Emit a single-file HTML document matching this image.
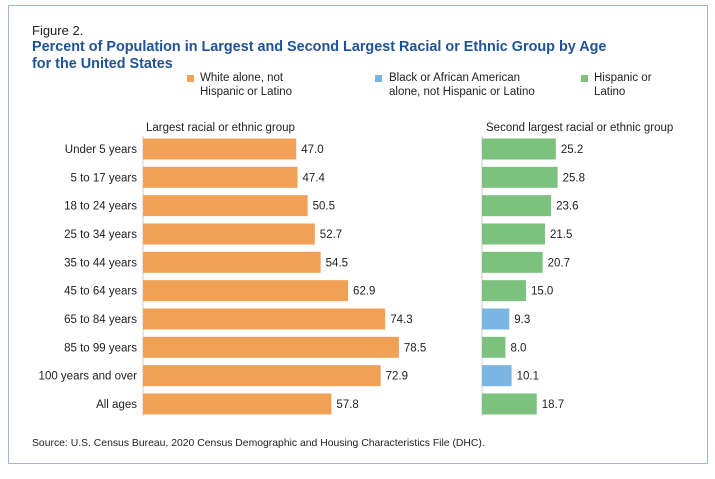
<!DOCTYPE html>
<html><head><meta charset="utf-8"><style>
body{margin:0;background:#fff;font-family:"Liberation Sans",sans-serif;}
#wrap{position:relative;width:715px;height:479px;overflow:hidden}
.frame{position:absolute;left:8px;top:5px;width:700px;height:459px;border:1px solid #9db8d6;box-sizing:border-box}
.t{position:absolute;white-space:nowrap;color:#222}
</style></head><body><div id="wrap">
<div class="frame"></div>
<div class="t" style="left:32px;top:23px;font-size:13px">Figure 2.</div>
<div class="t" style="left:32px;top:39px;font-size:14.4px;font-weight:bold;color:#1f5296;line-height:17px">Percent of Population in Largest and Second Largest Racial or Ethnic Group by Age<br>for the United States</div>
<div><div style="position:absolute;left:187px;top:75px;width:7px;height:7px;background:#f0a155"></div><div class="t" style="left:200px;top:71px;font-size:11.5px;line-height:14px">White alone, not<br>Hispanic or Latino</div></div>
<div><div style="position:absolute;left:375px;top:75px;width:7px;height:7px;background:#7ab6e3"></div><div class="t" style="left:389px;top:71px;font-size:11.5px;line-height:14px">Black or African American<br>alone, not Hispanic or Latino</div></div>
<div><div style="position:absolute;left:581px;top:75px;width:7px;height:7px;background:#7dc17e"></div><div class="t" style="left:594px;top:71px;font-size:11.5px;line-height:14px">Hispanic or<br>Latino</div></div>
<div class="t" style="left:146px;top:122px;font-size:11.5px">Largest racial or ethnic group</div>
<div class="t" style="left:486px;top:122px;font-size:11.5px">Second largest racial or ethnic group</div>
<div class="t" style="left:32px;top:438px;font-size:10.4px">Source: U.S. Census Bureau, 2020 Census Demographic and Housing Characteristics File (DHC).</div>
<svg id="chart" width="715" height="479" style="position:absolute;left:0;top:0"></svg>
</div>
<script>
const categories=["Under 5 years","5 to 17 years","18 to 24 years","25 to 34 years","35 to 44 years","45 to 64 years","65 to 84 years","85 to 99 years","100 years and over","All ages"];
const largestValues=[47.0,47.4,50.5,52.7,54.5,62.9,74.3,78.5,72.9,57.8];
const secondValues=[25.2,25.8,23.6,21.5,20.7,15.0,9.3,8.0,10.1,18.7];
const secondGroups=["H","H","H","H","H","H","B","H","B","H"];
const colors={W:"#f0a155",H:"#7dc17e",B:"#7ab6e3"};
const svg=document.getElementById('chart');
const NS="http://www.w3.org/2000/svg";
const xL=v=>143+v*3.26, xR=v=>482+v*2.93;
const yC=i=>149+i*28.33;
const bh=21;
function mk(t,a){const e=document.createElementNS(NS,t);for(const k in a)e.setAttribute(k,a[k]);svg.appendChild(e);return e;}
let ax=mk('line',{x1:143,x2:143,y1:136,y2:416,stroke:'#ccc'});


ax=mk('line',{x1:482,x2:482,y1:136,y2:416,stroke:'#ccc'});


categories.forEach((c,i)=>{
  const y=yC(i);
  let t=mk('text',{x:137,y:y+4,'text-anchor':'end','font-size':'11.5',fill:'#222','font-family':'Liberation Sans, sans-serif'});
  t.textContent=c;
  
  
  let r=mk('rect',{x:143,y:y-bh/2,width:xL(largestValues[i])-143,height:bh,fill:colors.W});
  
  
  t=mk('text',{x:xL(largestValues[i])+5,y:y+4,'font-size':'11.5',fill:'#222','font-family':'Liberation Sans, sans-serif'});
  t.textContent=largestValues[i].toFixed(1);
  
  
  r=mk('rect',{x:482,y:y-bh/2,width:xR(secondValues[i])-482,height:bh,fill:colors[secondGroups[i]]});
  
  
  t=mk('text',{x:xR(secondValues[i])+5,y:y+4,'font-size':'11.5',fill:'#222','font-family':'Liberation Sans, sans-serif'});
  t.textContent=secondValues[i].toFixed(1);
  
  
});
</script>
</body></html>
